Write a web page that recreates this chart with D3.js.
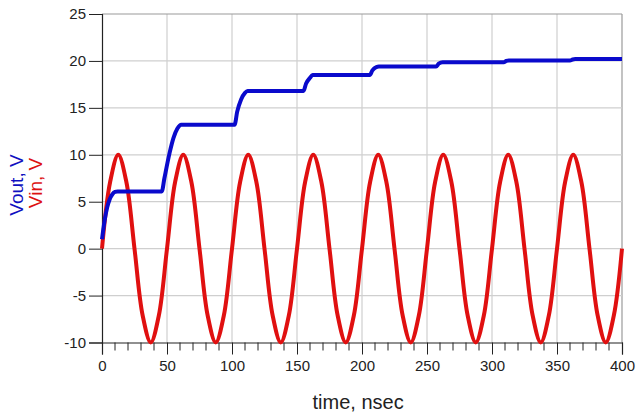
<!DOCTYPE html>
<html>
<head>
<meta charset="utf-8">
<script src="https://cdn.jsdelivr.net/npm/d3@7"></script>
<style>
  body { margin: 0; background: #fff; }
  text { font-family: "Liberation Sans", Arial, sans-serif; }
</style>
</head>
<body>
<div id="chart"></div>
<script>

// time axis, nsec
const xTicks = [0, 50, 100, 150, 200, 250, 300, 350, 400]
const yTicks = [-10, -5, 0, 5, 10, 15, 20, 25]

// Vin, every 6.25 ns
const vinTime = d3.range(0, 65).map((i) => i * 6.25)
const vinValues = [
    0, 7.1, 10, 7.1, 0, -7.1, -10, -7.1,
    0, 7.1, 10, 7.1, 0, -7.1, -10, -7.1,
    0, 7.1, 10, 7.1, 0, -7.1, -10, -7.1,
    0, 7.1, 10, 7.1, 0, -7.1, -10, -7.1,
    0, 7.1, 10, 7.1, 0, -7.1, -10, -7.1,
    0, 7.1, 10, 7.1, 0, -7.1, -10, -7.1,
    0, 7.1, 10, 7.1, 0, -7.1, -10, -7.1,
    0, 7.1, 10, 7.1, 0, -7.1, -10, -7.1,
    0
]

// Vout
const voutTime = [
    0, 2, 4, 6, 8, 10, 12,
    46, 48, 52, 55, 58, 61,
    102, 104, 107, 110, 112,
    155, 157, 160, 162,
    206, 208, 211, 213,
    257, 259, 262,
    309, 311, 313,
    360, 362, 364, 400
]
const voutValues = [
    1.0, 3.0, 4.4, 5.3, 5.8, 6.05, 6.1,
    6.1, 7.5, 10.2, 11.8, 12.8, 13.2,
    13.2, 14.6, 15.9, 16.6, 16.8,
    16.8, 17.6, 18.2, 18.5,
    18.5, 19.0, 19.35, 19.4,
    19.4, 19.7, 19.85,
    19.85, 20.0, 20.05,
    20.05, 20.15, 20.2, 20.2
]

const width = 640
const height = 416
const margin = { top: 14, right: 18, bottom: 74, left: 102 }

const svg = d3.select('#chart')
    .append('svg')
    .attr('width', width)
    .attr('height', height)

const xScale = d3.scaleLinear()
    .domain([0, 400])
    .range([margin.left, width - margin.right])

const yScale = d3.scaleLinear()
    .domain([-10, 25])
    .range([height - margin.bottom + 0.5, margin.top])

// grid
const grid = svg.append('g')
grid.selectAll('.gx')
    .data(xTicks.slice(1))
    .join('line')
    .attr('x1', (d) => xScale(d)).attr('x2', (d) => xScale(d))
    .attr('y1', yScale(25)).attr('y2', yScale(-10))
    .attr('stroke', (d) => d == 400 ? '#9a9a9a' : '#cfcfcf')
    .attr('stroke-width', 1.2)
grid.selectAll('.gy')
    .data(yTicks.slice(1))
    .join('line')
    .attr('x1', xScale(0)).attr('x2', xScale(400))
    .attr('y1', (d) => yScale(d)).attr('y2', (d) => yScale(d))
    .attr('stroke', (d) => d == 25 ? '#9a9a9a' : '#cfcfcf')
    .attr('stroke-width', 1.2)

// axes
const xAxis = svg.append('g')
    .attr('transform', `translate(0,${yScale(-10)})`)
    .call(d3.axisBottom(xScale).tickValues(xTicks).tickSize(12).tickPadding(6)
        .tickFormat((d) => String(d)))
xAxis.append('g')
    .selectAll('line')
    .data(d3.range(0, 401, 10).filter((d) => d % 50 != 0))
    .join('line')
    .attr('x1', (d) => xScale(d)).attr('x2', (d) => xScale(d))
    .attr('y1', 0).attr('y2', 8)
    .attr('stroke', '#222')

const yAxis = svg.append('g')
    .attr('transform', `translate(${xScale(0)},0)`)
    .call(d3.axisLeft(yScale).tickValues(yTicks).tickSize(13).tickPadding(3)
        .tickFormat((d) => String(d)))

svg.selectAll('.domain').attr('stroke', '#222').attr('stroke-width', 1.2)
svg.selectAll('.tick line').attr('stroke', '#222')
svg.selectAll('.tick text')
    .attr('font-size', 15)
    .attr('fill', '#222')
    .style('font-family', '"Liberation Sans", Arial, sans-serif')

// titles
svg.append('text')
    .attr('x', xScale(197))
    .attr('y', 409)
    .attr('text-anchor', 'middle')
    .attr('font-size', 20)
    .attr('fill', '#222')
    .text('time, nsec')

svg.append('text')
    .attr('transform', 'translate(23,185) rotate(-90)')
    .attr('text-anchor', 'middle')
    .attr('font-size', 19)
    .attr('fill', '#1010c0')
    .text('Vout, V')

svg.append('text')
    .attr('transform', 'translate(42,183) rotate(-90)')
    .attr('text-anchor', 'middle')
    .attr('font-size', 19)
    .attr('fill', '#dd1111')
    .text('Vin, V')

// series
const vin = vinTime.map((t, i) => [t, vinValues[i]])
const vout = voutTime.map((t, i) => [t, voutValues[i]])

const lineVin = d3.line()
    .x((d) => xScale(d[0]))
    .y((d) => yScale(d[1]))
    .curve(d3.curveCatmullRom)

const lineVout = d3.line()
    .x((d) => xScale(d[0]))
    .y((d) => yScale(d[1]))
    .curve(d3.curveMonotoneX)

svg.append('path')
    .datum(vin)
    .attr('fill', 'none')
    .attr('stroke', '#e01010')
    .attr('stroke-width', 4)
    .attr('d', lineVin)

svg.append('path')
    .datum(vout)
    .attr('fill', 'none')
    .attr('stroke', '#0a0acc')
    .attr('stroke-width', 4)
    .attr('d', lineVout)

</script>
</body>
</html>
